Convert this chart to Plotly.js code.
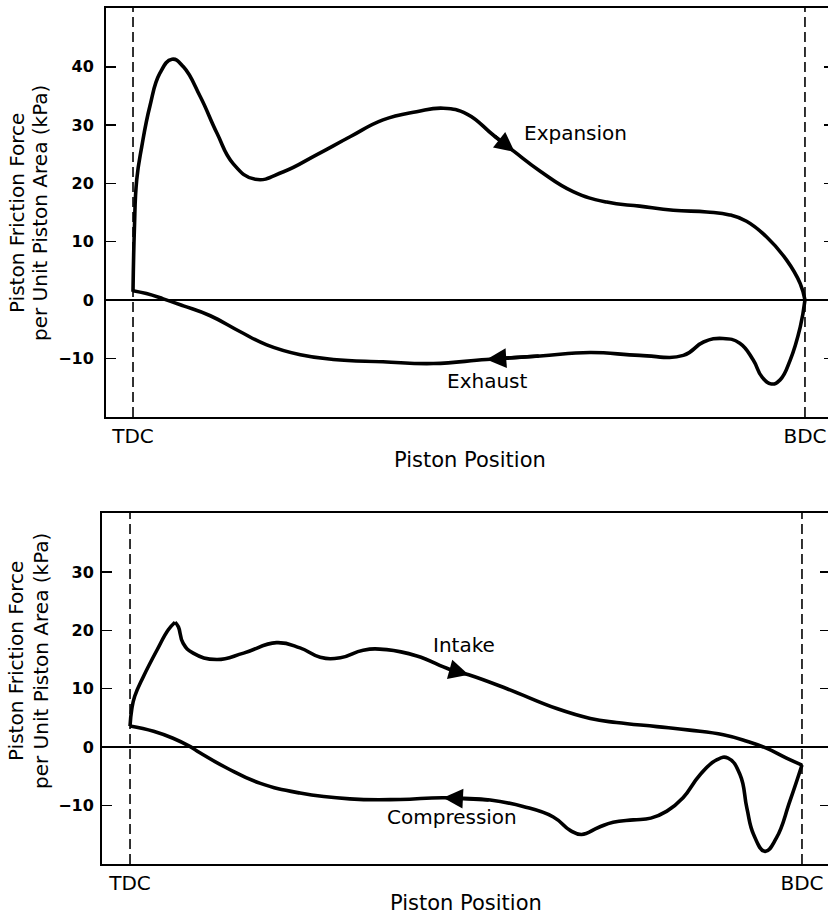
<!DOCTYPE html>
<html><head><meta charset="utf-8">
<script src="https://cdn.plot.ly/plotly-3.0.1.min.js"></script>
<style>html,body{margin:0;padding:0;overflow:hidden;background:#fff}</style>
</head><body><div id="chart" style="width:840px;height:917px"></div>
<script>
// ---- data ----
const xTickVals = [0, 100];
const xTickText = ['TDC', 'BDC'];
const topYTicks = [-10, 0, 10, 20, 30, 40];
const botYTicks = [-10, 0, 10, 20, 30];

// Top: expansion (TDC -> BDC) and exhaust (BDC -> TDC)
const expansionX = [0,0.2,0.55,1.3,2.5,4.0,5.8,7.5,10,12.5,14.9,18.2,22.4,27.3,32.3,37.2,42.2,46.2,49.7,53.6,56.8,60.6,65.5,70.5,75.4,80.4,85.4,88.8,91.3,94.3,97.3,99.3,100];
const expansionY = [1.4,12,20.6,26.3,33.2,38.9,41.3,40.0,34.9,28.6,23.4,20.7,22.0,24.9,28.0,30.9,32.3,32.9,31.9,28.3,25.4,22.1,18.6,16.8,16.1,15.4,15.1,14.6,13.5,10.8,6.8,2.8,0];
const exhaustX = [100,99.3,97.8,96.3,95.0,93.6,92.3,90.3,87.8,84.9,81.9,75.4,68.0,60.6,52.6,44.7,37.2,29.8,24.9,19.9,15.9,11.5,7.5,4.5,2.0,0];
const exhaustY = [0,-4.6,-10.3,-13.7,-14.4,-13.2,-10.3,-7.4,-6.6,-7.2,-9.5,-9.5,-9.0,-9.6,-10.2,-10.9,-10.6,-10.2,-9.4,-7.7,-5.4,-2.7,-1.0,0.2,1.1,1.6];

// Bottom: intake (TDC -> BDC) and compression (BDC -> TDC)
const intakeX = [0,0.25,0.7,2.0,4.0,5.7,6.7,7.2,7.9,9.4,12.9,16.9,21.8,25.3,28.3,31.3,34.7,38.2,42.7,47.6,50.4,56.1,63.5,68.5,72.4,78.4,83.3,88.3,91.8,94.7,97.7,100];
const intakeY = [3.6,6.4,8.7,12.1,16.6,20.1,21.4,20.6,17.8,16.1,15.0,16.1,17.9,17.0,15.4,15.3,16.6,16.7,15.6,13.3,12.4,10.0,6.6,4.9,4.2,3.5,2.9,2.1,1.0,-0.2,-1.9,-3.1];
const compressionX = [100,98.2,96.2,94.5,92.8,91.8,90.8,89.0,87.3,84.8,82.3,79.9,77.5,74.9,71.9,69.7,67.2,65.5,63.0,58.5,53.6,46.6,40.2,32.7,25.3,19.3,14.4,10.4,8.9,6.4,3.5,0];
const compressionY = [-3.1,-9.3,-15.6,-17.9,-15.0,-10.5,-4.8,-1.9,-2.2,-4.8,-8.7,-11.0,-12.2,-12.5,-12.9,-13.8,-15.0,-14.3,-12.0,-10.2,-9.1,-8.7,-9.0,-8.9,-7.9,-6.2,-3.6,-1.0,0.1,1.5,2.7,3.6];

const intakeCusp = 6;          // index of the sharp peak in intake
const expansionArrow = 20;     // arrow-tip indices
const exhaustArrow = 14;
const intakeArrow = 20;
const compressionArrow = 21;

// ---- drawing ----
const W = 840, H = 917;
const px = v => v / W, py = v => 1 - v / H;
const FONT = 'DejaVu Sans, Liberation Sans, Arial, sans-serif';
const lineStyle = {color: '#000', width: 3.6, shape: 'spline', smoothing: 1.3};

function tr(x, y, xa, ya) {
  return {x: x, y: y, xaxis: xa, yaxis: ya, type: 'scatter', mode: 'lines',
          line: lineStyle, hoverinfo: 'skip', showlegend: false};
}

const traces = [
  tr(expansionX, expansionY, 'x', 'y'),
  tr(exhaustX, exhaustY, 'x', 'y'),
  tr(intakeX.slice(0, intakeCusp + 1), intakeY.slice(0, intakeCusp + 1), 'x2', 'y2'),
  tr(intakeX.slice(intakeCusp), intakeY.slice(intakeCusp), 'x2', 'y2'),
  tr(compressionX, compressionY, 'x2', 'y2')
];

function arrow(xs, ys, i, xr, yr) {
  return {xref: xr, yref: yr, axref: xr, ayref: yr, x: xs[i], y: ys[i], ax: xs[i-1], ay: ys[i-1],
          text: '', showarrow: true, arrowhead: 2, arrowsize: 1.1, arrowwidth: 3.6,
          arrowcolor: '#000', standoff: 0};
}
function label(text, x, y, xr, yr, size, angle, yanchor) {
  return {xref: xr, yref: yr, x: x, y: y, text: text, showarrow: false,
          xanchor: 'center', yanchor: yanchor || 'middle', textangle: angle || 0,
          font: {family: FONT, size: size || 20, color: '#000'}};
}

const xBase = {
  tickvals: xTickVals, ticktext: xTickText, ticks: '', showgrid: false, zeroline: false,
  showline: true, linecolor: '#000', linewidth: 2, mirror: true,
  tickfont: {family: FONT, size: 20, color: '#000'}, fixedrange: true
};
const yBase = {
  ticks: 'inside', ticklen: 10, tickwidth: 1.5, tickcolor: '#000', showgrid: false,
  zeroline: true, zerolinecolor: '#000', zerolinewidth: 1.5,
  showline: true, linecolor: '#000', linewidth: 2, mirror: 'ticks',
  tickfont: {family: FONT, size: 16, color: '#000', weight: 'bold'}, fixedrange: true
};

const layout = {
  width: W, height: H, margin: {l: 0, r: 0, t: 0, b: 0},
  paper_bgcolor: '#fff', plot_bgcolor: '#fff', showlegend: false,
  xaxis: Object.assign({}, xBase, {domain: [px(106), px(834)], range: [-4.02, 104.32], anchor: 'y'}),
  yaxis: Object.assign({}, yBase, {domain: [py(417), py(8)], range: [-20.07, 50.09], tickvals: topYTicks, anchor: 'x', ticklabelstandoff: 7}),
  xaxis2: Object.assign({}, xBase, {domain: [px(102), px(830)], range: [-4.17, 104.17], anchor: 'y2'}),
  yaxis2: Object.assign({}, yBase, {domain: [py(864), py(513)], range: [-20.07, 40.14], tickvals: botYTicks, anchor: 'x2', ticklabelstandoff: 3}),
  shapes: [
    {type: 'line', xref: 'x', yref: 'y domain', x0: 0, x1: 0, y0: 0, y1: 1, line: {color: '#000', width: 1.6, dash: '10px,5px'}},
    {type: 'line', xref: 'x', yref: 'y domain', x0: 100, x1: 100, y0: 0, y1: 1, line: {color: '#000', width: 1.6, dash: '10px,5px'}},
    {type: 'line', xref: 'x2', yref: 'y2 domain', x0: 0, x1: 0, y0: 0, y1: 1, line: {color: '#000', width: 1.6, dash: '10px,5px'}},
    {type: 'line', xref: 'x2', yref: 'y2 domain', x0: 100, x1: 100, y0: 0, y1: 1, line: {color: '#000', width: 1.6, dash: '10px,5px'}}
  ],
  annotations: [
    arrow(expansionX, expansionY, expansionArrow, 'x', 'y'),
    arrow(exhaustX, exhaustY, exhaustArrow, 'x', 'y'),
    arrow(intakeX, intakeY, intakeArrow, 'x2', 'y2'),
    arrow(compressionX, compressionY, compressionArrow, 'x2', 'y2'),
    label('Expansion', 65.8, 28.6, 'x', 'y'),
    label('Exhaust', 52.8, -13.9, 'x', 'y'),
    label('Intake', 49.7, 17.5, 'x2', 'y2'),
    label('Compression', 47.9, -12.0, 'x2', 'y2'),
    label('Piston Position', px(470), py(460), 'paper', 'paper', 21),
    label('Piston Position', px(466), py(917), 'paper', 'paper', 21, 0, 'bottom'),
    label('Piston Friction Force', px(17), py(213), 'paper', 'paper', 20, -90),
    label('per Unit Piston Area (kPa)', px(40), py(213), 'paper', 'paper', 20, -90),
    label('Piston Friction Force', px(16), py(661), 'paper', 'paper', 20, -90),
    label('per Unit Piston Area (kPa)', px(41), py(661), 'paper', 'paper', 20, -90)
  ]
};

Plotly.newPlot('chart', traces, layout, {displayModeBar: false, staticPlot: true});
</script>
</body></html>
